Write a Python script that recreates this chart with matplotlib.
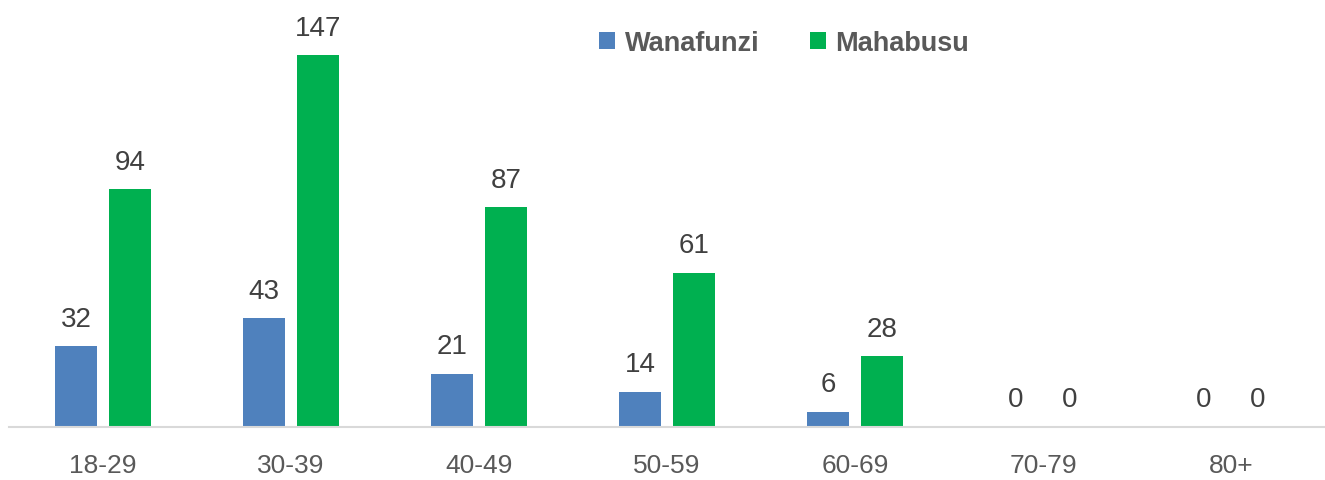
import numpy as np
import matplotlib
matplotlib.use("Agg")
import matplotlib.pyplot as plt

plt.rcParams["font.family"] = ["Liberation Sans", "DejaVu Sans"]

categories = ["18-29", "30-39", "40-49", "50-59", "60-69", "70-79", "80+"]
wanafunzi = [32, 43, 21, 14, 6, 0, 0]
mahabusu = [94, 147, 87, 61, 28, 0, 0]

BLUE = "#4F81BD"
GREEN = "#00B050"

fig = plt.figure(figsize=(13.25, 4.81), dpi=100)
ax = fig.add_axes([9 / 1325, 53 / 481, 1316 / 1325, 417 / 481])

x = np.arange(len(categories))
w = 0.22
off = 0.143
b1 = ax.bar(x - off, wanafunzi, w, color=BLUE, label="Wanafunzi")
b2 = ax.bar(x + off, mahabusu, w, color=GREEN, label="Mahabusu")

# value labels above each bar
for bars in (b1, b2):
    for rect in bars:
        h = rect.get_height()
        ax.annotate(f"{int(h)}", (rect.get_x() + rect.get_width() / 2, h),
                    xytext=(0, 10.5), textcoords="offset points",
                    ha="center", va="bottom", fontsize=20, color="#404040")

ax.set_xlim(-0.5, len(categories) - 0.5)
ax.set_ylim(0, 165)
ax.set_xticks(x)
ax.set_xticklabels(categories, fontsize=19, color="#595959")
ax.tick_params(axis="x", length=0, pad=19)
ax.set_yticks([])
for s in ["top", "right", "left"]:
    ax.spines[s].set_visible(False)
ax.spines["bottom"].set_color("#D9D9D9")
ax.spines["bottom"].set_linewidth(1.5)

ax.legend(loc="center", bbox_to_anchor=(0.589, 0.92), ncol=2,
          frameon=False, prop={"weight": "bold", "size": 19.5},
          labelcolor="#595959", handlelength=0.6, handleheight=0.6,
          handletextpad=0.35, columnspacing=1.85)

fig.savefig("out.png", dpi=100)
